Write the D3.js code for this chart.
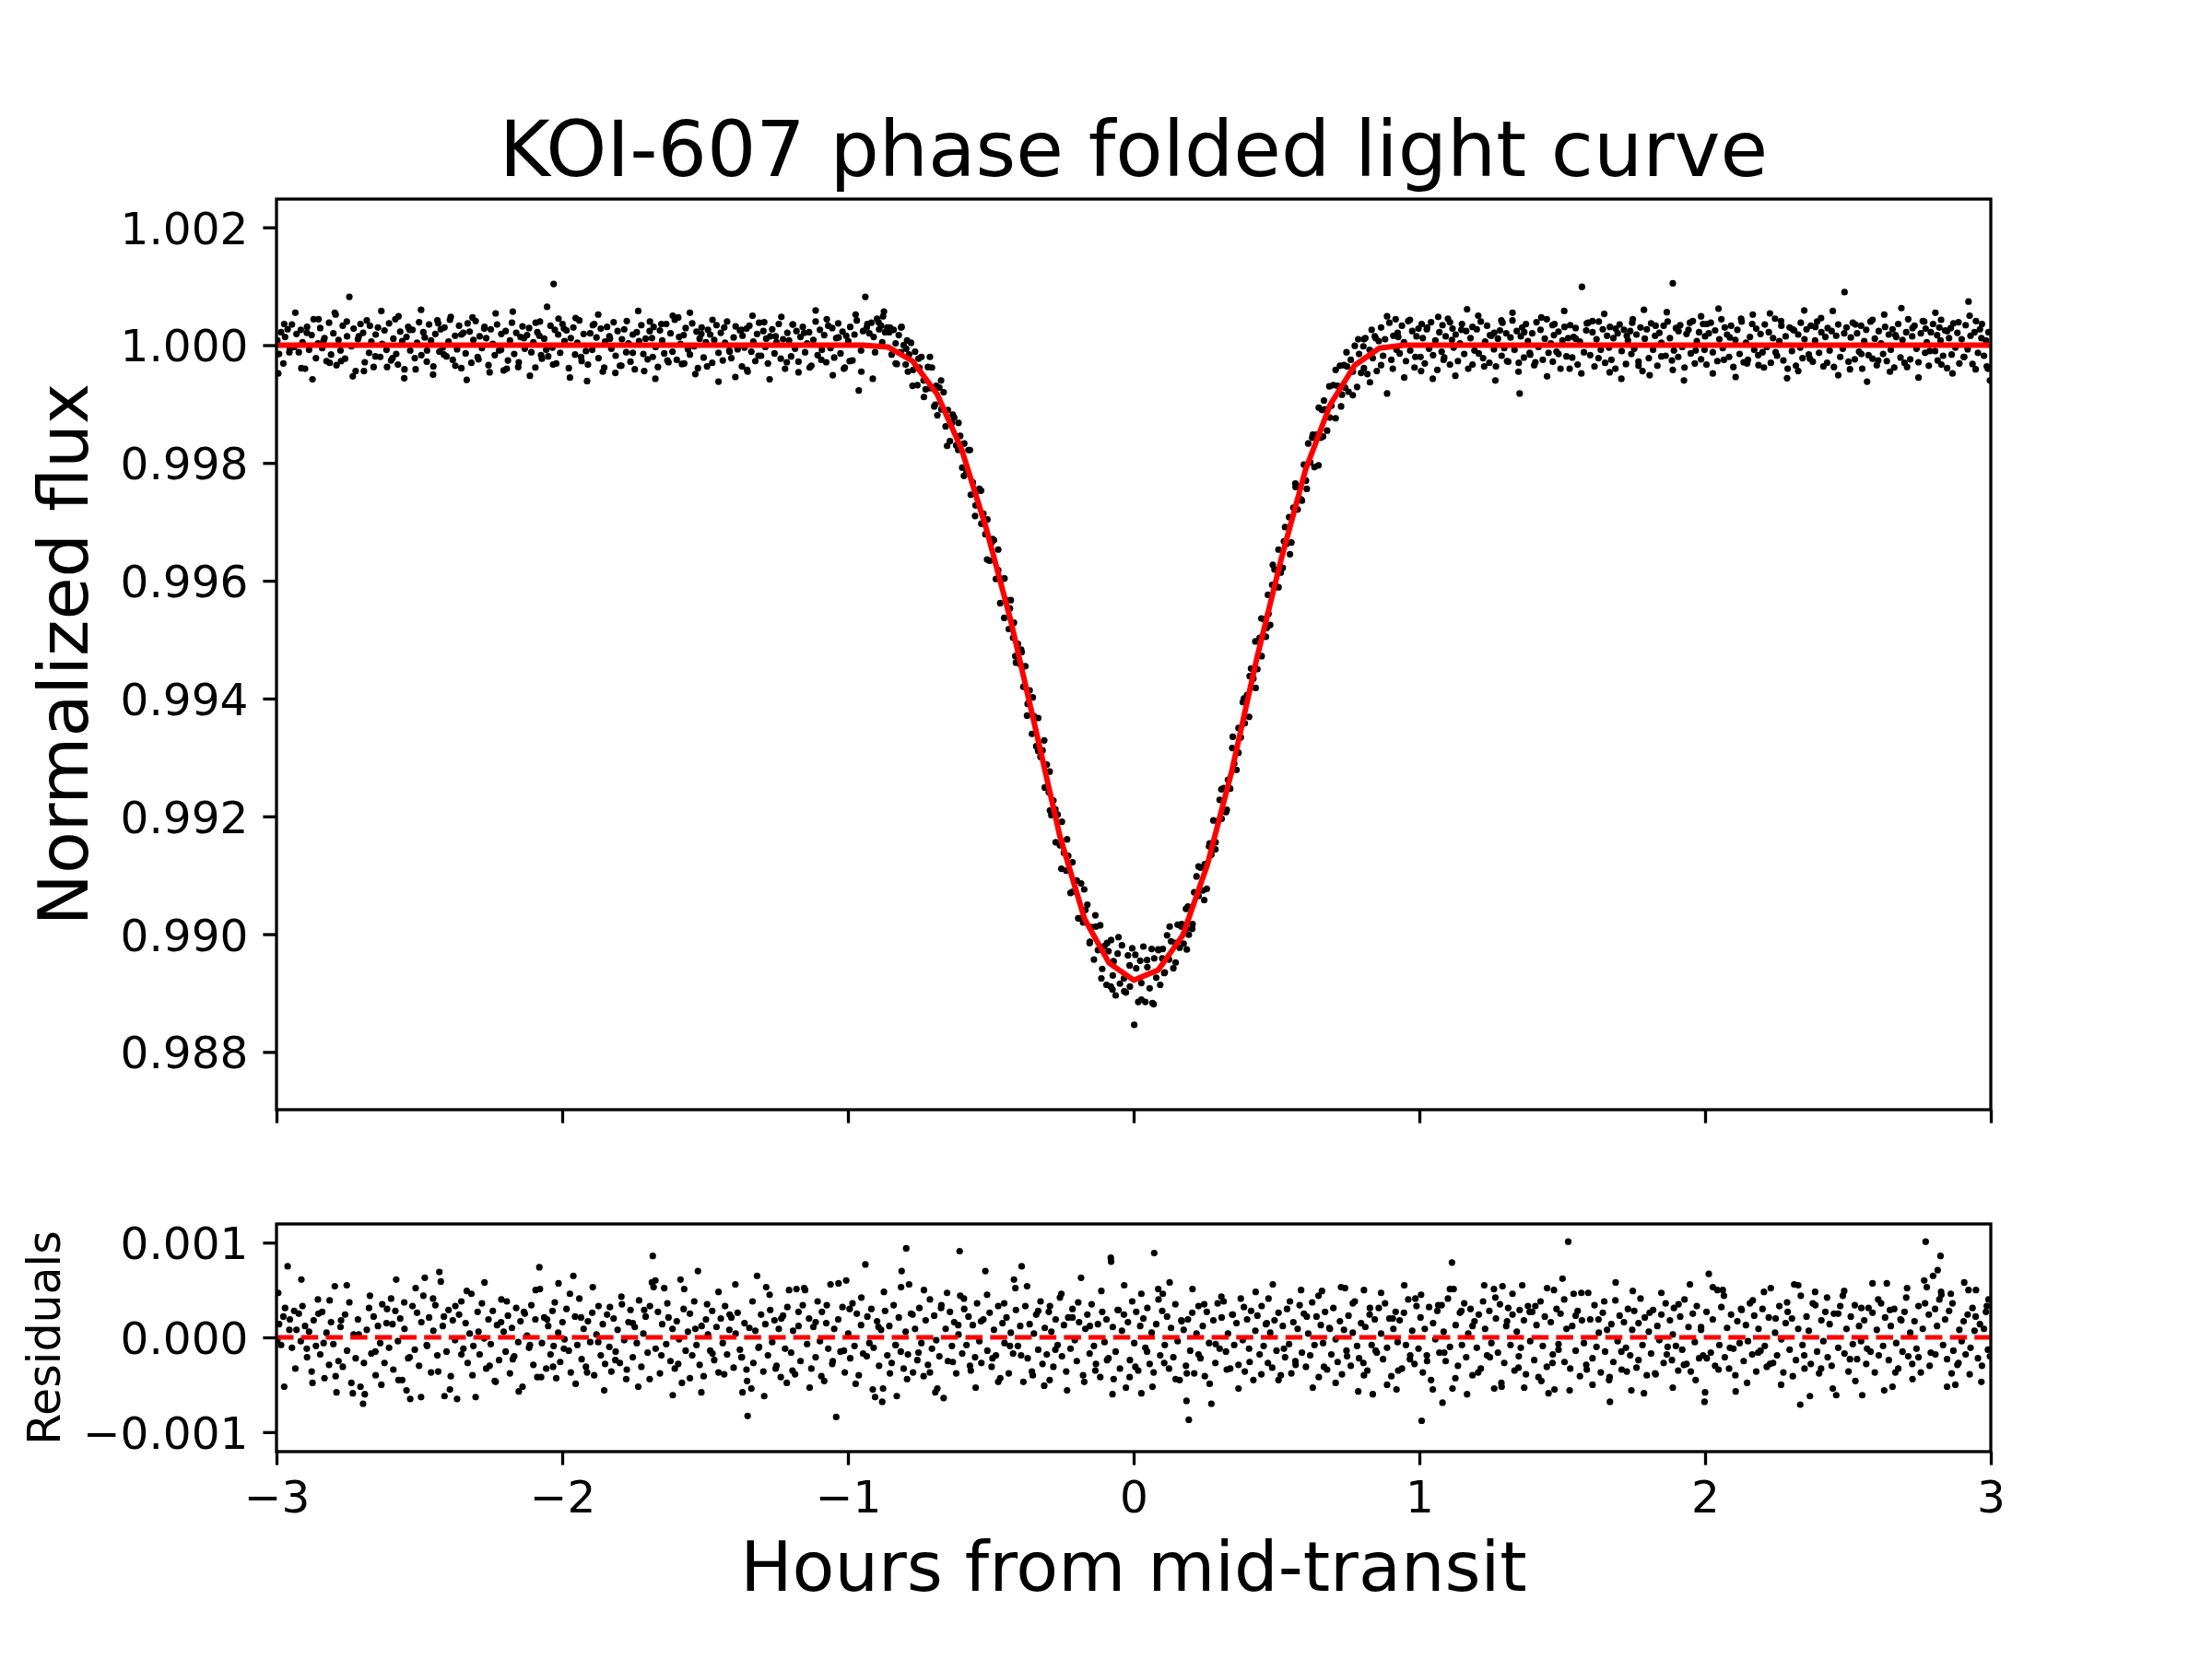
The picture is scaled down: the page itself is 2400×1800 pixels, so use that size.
<!DOCTYPE html>
<html><head><meta charset="utf-8">
<script src="https://cdn.jsdelivr.net/npm/d3@7"></script>
<style>body{margin:0;background:#fff}</style>
</head><body>
<svg id="chart" width="2400" height="1800"></svg>
<script>
const titleText = "KOI-607 phase folded light curve";
const xLabelText = "Hours from mid-transit";
const yLabelTopText = "Normalized flux";
const yLabelBottomText = "Residuals";
const xTicks = [-3,-2,-1,0,1,2,3];
const fluxTicks = [0.988,0.990,0.992,0.994,0.996,0.998,1.000,1.002];
const residualTicks = [-0.001,0,0.001];

const modelTimes = [-3,-0.946,-0.860,-0.774,-0.688,-0.602,-0.516,-0.430,-0.344,-0.258,-0.172,-0.086,0,0.086,0.172,0.258,0.344,0.430,0.516,0.602,0.688,0.774,0.860,0.946,3];
const modelFlux = [1,1,0.99997,0.99973,0.99917,0.99823,0.99689,0.99532,0.99350,0.99166,0.99026,0.98951,0.98922,0.98939,0.98998,0.99118,0.99278,0.99466,0.99636,0.99789,0.99899,0.99966,0.99995,1,1];

const times = [
-2.997,-2.991,-2.984,-2.976,-2.970,-2.961,-2.953,-2.946,-2.938,-2.930,
-2.922,-2.915,-2.909,-2.900,-2.893,-2.886,-2.877,-2.870,-2.862,-2.855,
-2.847,-2.840,-2.832,-2.825,-2.816,-2.809,-2.801,-2.796,-2.790,-2.783,
-2.776,-2.768,-2.760,-2.753,-2.745,-2.738,-2.730,-2.723,-2.715,-2.706,
-2.697,-2.691,-2.684,-2.676,-2.668,-2.660,-2.653,-2.645,-2.637,-2.630,
-2.622,-2.615,-2.606,-2.599,-2.591,-2.584,-2.581,-2.575,-2.567,-2.560,
-2.552,-2.545,-2.539,-2.532,-2.524,-2.516,-2.508,-2.501,-2.493,-2.486,
-2.481,-2.474,-2.466,-2.459,-2.451,-2.444,-2.437,-2.430,-2.425,-2.418,
-2.412,-2.405,-2.398,-2.390,-2.383,-2.375,-2.368,-2.361,-2.353,-2.346,
-2.338,-2.331,-2.324,-2.318,-2.311,-2.303,-2.296,-2.289,-2.281,-2.273,
-2.266,-2.258,-2.250,-2.243,-2.236,-2.228,-2.221,-2.213,-2.205,-2.198,
-2.190,-2.183,-2.176,-2.168,-2.161,-2.154,-2.146,-2.139,-2.131,-2.123,
-2.116,-2.108,-2.101,-2.094,-2.087,-2.080,-2.078,-2.071,-2.063,-2.056,
-2.049,-2.041,-2.034,-2.030,-2.026,-2.021,-2.014,-2.007,-1.999,-1.992,
-1.985,-1.977,-1.970,-1.961,-1.955,-1.947,-1.940,-1.932,-1.925,-1.917,
-1.910,-1.902,-1.895,-1.888,-1.880,-1.873,-1.865,-1.858,-1.850,-1.843,
-1.835,-1.828,-1.820,-1.813,-1.806,-1.798,-1.791,-1.783,-1.776,-1.768,
-1.761,-1.753,-1.746,-1.739,-1.731,-1.723,-1.716,-1.708,-1.701,-1.693,
-1.686,-1.683,-1.680,-1.673,-1.665,-1.658,-1.650,-1.643,-1.636,-1.628,
-1.621,-1.614,-1.606,-1.599,-1.591,-1.586,-1.581,-1.575,-1.568,-1.560,
-1.553,-1.545,-1.538,-1.530,-1.525,-1.519,-1.512,-1.505,-1.497,-1.490,
-1.482,-1.475,-1.468,-1.460,-1.453,-1.445,-1.438,-1.430,-1.423,-1.415,
-1.408,-1.400,-1.393,-1.386,-1.378,-1.371,-1.369,-1.362,-1.355,-1.351,
-1.345,-1.338,-1.331,-1.324,-1.318,-1.311,-1.304,-1.296,-1.289,-1.286,
-1.280,-1.272,-1.265,-1.257,-1.250,-1.242,-1.235,-1.227,-1.220,-1.212,
-1.206,-1.199,-1.192,-1.185,-1.180,-1.173,-1.166,-1.158,-1.150,-1.143,
-1.136,-1.128,-1.121,-1.113,-1.106,-1.098,-1.091,-1.083,-1.076,-1.069,
-1.061,-1.055,-1.048,-1.041,-1.034,-1.026,-1.019,-1.011,-1.006,-0.999,
-0.992,-0.984,-0.977,-0.969,-0.962,-0.954,-0.947,-0.939,-0.932,-0.925,
-0.918,-0.910,-0.905,-0.898,-0.891,-0.884,-0.880,-0.877,-0.870,-0.862,
-0.855,-0.847,-0.840,-0.833,-0.829,-0.822,-0.815,-0.812,-0.805,-0.798,
-0.796,-0.790,-0.786,-0.779,-0.772,-0.765,-0.757,-0.750,-0.743,-0.735,
-0.728,-0.720,-0.713,-0.706,-0.698,-0.691,-0.687,-0.680,-0.673,-0.665,
-0.658,-0.650,-0.643,-0.636,-0.628,-0.621,-0.613,-0.609,-0.607,-0.600,
-0.593,-0.585,-0.578,-0.570,-0.563,-0.555,-0.548,-0.540,-0.533,-0.526,
-0.519,-0.512,-0.504,-0.497,-0.489,-0.482,-0.474,-0.467,-0.459,-0.452,
-0.445,-0.437,-0.430,-0.422,-0.419,-0.412,-0.405,-0.397,-0.392,-0.386,
-0.379,-0.371,-0.364,-0.356,-0.349,-0.341,-0.334,-0.326,-0.319,-0.311,
-0.304,-0.297,-0.294,-0.288,-0.281,-0.273,-0.266,-0.258,-0.251,-0.244,
-0.236,-0.229,-0.221,-0.214,-0.206,-0.199,-0.191,-0.184,-0.177,-0.169,
-0.162,-0.154,-0.147,-0.139,-0.132,-0.125,-0.117,-0.110,-0.102,-0.095,
-0.088,-0.080,-0.079,-0.073,-0.070,-0.063,-0.056,-0.048,-0.041,-0.034,
-0.027,-0.020,-0.013,-0.005,0.002,0.009,0.016,0.023,0.027,0.034,
0.041,0.048,0.056,0.063,0.070,0.072,0.079,0.086,0.093,0.100,
0.102,0.109,0.117,0.124,0.131,0.139,0.146,0.154,0.161,0.168,
0.175,0.183,0.185,0.190,0.193,0.198,0.205,0.212,0.220,0.227,
0.234,0.242,0.249,0.256,0.264,0.272,0.279,0.286,0.294,0.301,
0.308,0.315,0.323,0.330,0.338,0.345,0.352,0.360,0.367,0.375,
0.382,0.389,0.397,0.404,0.411,0.419,0.426,0.433,0.441,0.448,
0.455,0.463,0.470,0.472,0.478,0.485,0.493,0.500,0.507,0.515,
0.522,0.530,0.537,0.544,0.552,0.559,0.566,0.574,0.581,0.589,
0.596,0.603,0.611,0.618,0.625,0.633,0.640,0.648,0.655,0.659,
0.663,0.670,0.677,0.685,0.692,0.699,0.707,0.714,0.722,0.729,
0.736,0.740,0.745,0.752,0.760,0.767,0.774,0.782,0.789,0.796,
0.804,0.806,0.811,0.818,0.826,0.833,0.837,0.844,0.851,0.858,
0.866,0.873,0.880,0.887,0.895,0.902,0.909,0.917,0.920,0.924,
0.931,0.939,0.946,0.953,0.961,0.968,0.975,0.983,0.990,0.997,
1.004,1.008,1.012,1.019,1.026,1.034,1.041,1.048,1.056,1.063,
1.070,1.078,1.081,1.085,1.092,1.100,1.107,1.114,1.116,1.120,
1.127,1.135,1.142,1.149,1.157,1.164,1.171,1.179,1.186,1.193,
1.201,1.208,1.215,1.223,1.230,1.237,1.245,1.252,1.261,1.262,
1.268,1.275,1.282,1.288,1.291,1.297,1.304,1.311,1.319,1.326,
1.333,1.341,1.348,1.351,1.355,1.360,1.366,1.373,1.380,1.388,
1.395,1.402,1.410,1.417,1.424,1.432,1.439,1.446,1.452,1.460,
1.467,1.471,1.473,1.480,1.487,1.494,1.501,1.508,1.515,1.521,
1.528,1.535,1.540,1.547,1.554,1.562,1.569,1.576,1.584,1.591,
1.598,1.606,1.613,1.620,1.628,1.635,1.642,1.650,1.657,1.664,
1.667,1.672,1.679,1.686,1.694,1.701,1.708,1.716,1.723,1.730,
1.738,1.742,1.745,1.752,1.760,1.767,1.774,1.781,1.789,1.796,
1.803,1.811,1.818,1.825,1.833,1.840,1.847,1.855,1.862,1.869,
1.877,1.884,1.887,1.891,1.898,1.906,1.913,1.920,1.928,1.935,
1.942,1.950,1.957,1.964,1.971,1.979,1.986,1.993,1.998,2.000,
2.005,2.013,2.020,2.027,2.035,2.043,2.050,2.057,2.062,2.069,
2.077,2.084,2.091,2.099,2.106,2.113,2.121,2.128,2.135,2.143,
2.150,2.157,2.165,2.172,2.179,2.187,2.194,2.201,2.209,2.216,
2.223,2.230,2.238,2.245,2.252,2.260,2.267,2.274,2.282,2.289,
2.296,2.304,2.312,2.318,2.326,2.333,2.335,2.341,2.348,2.355,
2.363,2.370,2.377,2.385,2.392,2.399,2.407,2.414,2.421,2.429,
2.436,2.443,2.451,2.459,2.466,2.473,2.482,2.488,2.495,2.502,
2.510,2.517,2.524,2.532,2.539,2.546,2.550,2.557,2.564,2.572,
2.579,2.586,2.594,2.601,2.608,2.616,2.623,2.630,2.636,2.643,
2.650,2.656,2.662,2.669,2.676,2.684,2.691,2.698,2.704,2.711,
2.718,2.725,2.733,2.740,2.747,2.755,2.762,2.770,2.772,2.776,
2.783,2.790,2.798,2.805,2.812,2.814,2.820,2.824,2.826,2.833,
2.840,2.847,2.854,2.860,2.863,2.869,2.876,2.883,2.890,2.898,
2.905,2.912,2.919,2.922,2.929,2.936,2.943,2.948,2.955,2.962,
2.969,2.976,2.983,2.990,2.992,2.997,
-2.994,-2.973,-2.955,-2.934,-2.913,-2.894,-2.874,-2.853,-2.835,-2.814,
-2.793,-2.774,-2.754,-2.733,-2.712,-2.694,-2.673,-2.654,-2.633,-2.613,
-2.594,-2.573,-2.553,-2.534,-2.513,-2.494,-2.473,-2.452,-2.434,-2.414,
-2.393,-2.374,-2.353,-2.334,-2.314,-2.293,-2.272,-2.254,-2.233,-2.214,
-2.194,-2.173,-2.152,-2.134,-2.113,-2.093,-2.074,-2.053,-2.032,-2.013,
-1.994,-1.973,-1.953,-1.934,-1.913,-1.893,-1.874,-1.853,-1.833,-1.814,
-1.793,-1.774,-1.753,-1.734,-1.713,-1.694,-1.674,-1.653,-1.632,-1.613,
-1.594,-1.573,-1.553,-1.534,-1.513,-1.493,-1.474,-1.453,-1.433,-1.414,
-1.394,-1.373,-1.353,-1.334,-1.313,-1.293,-1.274,-1.253,-1.233,-1.214,
-1.194,-1.173,-1.153,-1.134,-1.113,-1.093,-1.074,-1.053,-1.033,-1.014,
-0.994,-0.973,-0.953,-0.934,-0.913,-0.893,-0.874,-0.853,-0.833,-0.814,
-0.793,-0.774,-0.753,-0.734,-0.713,-0.694,-0.674,-0.653,-0.633,-0.614,
-0.594,-0.573,-0.553,-0.534,-0.513,-0.494,-0.474,-0.453,-0.433,-0.414,
-0.394,-0.373,-0.353,-0.334,-0.313,-0.293,-0.274,-0.253,-0.233,-0.214,
-0.194,-0.173,-0.153,-0.134,-0.113,-0.093,-0.074,-0.053,-0.033,-0.014,
0.006,0.027,0.047,0.066,0.087,0.107,0.126,0.147,0.167,0.186,
0.206,0.227,0.247,0.266,0.287,0.307,0.326,0.347,0.367,0.386,
0.406,0.427,0.447,0.466,0.487,0.507,0.526,0.547,0.567,0.586,
0.606,0.627,0.647,0.666,0.687,0.707,0.726,0.747,0.767,0.786,
0.806,0.827,0.847,0.866,0.887,0.907,0.926,0.947,0.967,0.986,
1.006,1.027,1.047,1.066,1.087,1.107,1.126,1.147,1.167,1.186,
1.206,1.227,1.247,1.266,1.287,1.307,1.326,1.347,1.367,1.386,
1.406,1.427,1.447,1.466,1.487,1.507,1.526,1.547,1.567,1.586,
1.606,1.627,1.647,1.666,1.687,1.707,1.726,1.747,1.767,1.786,
1.806,1.827,1.847,1.866,1.887,1.907,1.926,1.947,1.967,1.986,
2.006,2.027,2.047,2.066,2.087,2.107,2.126,2.147,2.167,2.186,
2.206,2.227,2.247,2.266,2.287,2.307,2.326,2.347,2.367,2.386,
2.406,2.427,2.447,2.466,2.487,2.507,2.526,2.547,2.567,2.586,
2.606,2.627,2.647,2.666,2.687,2.707,2.726,2.747,2.767,2.786,
2.806,2.827,2.847,2.866,2.887,2.907,2.926,2.947,2.967,2.986];

const flux = [
1.00008,.99985,1.00022,.99969,1.00014,1.00027,.99994,1.00035,.99997,1.00019,
.99988,1.00026,1.00005,.99960,1.00031,.99992,1.00017,1.00044,.99978,1.00003,
1.00029,.99995,1.00012,.99973,1.00038,.99984,1.00020,1.00055,.99966,1.00009,
.99991,1.00033,.99977,1.00015,1.00082,.99998,1.00028,.99956,1.00010,1.00036,
1.00021,.99971,1.00042,.99987,1.00006,.99963,1.00018,1.00030,.99980,1.00002,
1.00025,.99992,1.00037,.99974,1.00011,1.00044,.99985,.99967,1.00023,1.00007,
.99959,1.00014,1.00031,.99991,1.00026,.99978,1.00004,1.00039,.99983,1.00022,
1.00013,.99972,1.00035,1.00008,.99964,1.00019,1.00042,.99989,1.00027,.99996,
1.00030,.99981,1.00006,1.00048,.99975,1.00016,.99993,1.00033,.99961,1.00021,
.99986,1.00037,1.00023,.99970,1.00009,1.00041,.99980,1.00015,.99995,1.00028,
1.00012,.99966,1.00027,1.00002,.99983,1.00035,.99991,1.00019,.99957,1.00024,
.99974,1.00008,1.00038,.99985,1.00021,.99963,1.00014,1.00032,.99994,1.00017,
1.00029,.99988,1.00005,.99962,1.00022,1.00016,1.00040,.99977,1.00011,.99992,
.99981,1.00033,.99996,1.00104,1.00026,.99969,1.00018,.99987,1.00036,1.00007,
1.00025,.99961,1.00012,1.00030,.99984,1.00004,1.00042,.99973,1.00019,.99990,
.99967,1.00020,.99992,1.00036,1.00013,.99978,1.00028,.99955,1.00006,1.00031,
1.00015,.99994,1.00039,.99982,1.00024,.99965,1.00010,1.00027,.99988,1.00003,
.99972,1.00018,.99959,1.00022,1.00007,1.00034,.99985,1.00011,.99976,1.00040,
1.00012,.99980,1.00031,.99997,.99963,1.00025,1.00008,.99986,1.00036,.99971,
1.00020,.99989,1.00043,.99975,1.00014,1.00002,.99968,1.00017,1.00029,.99993,
.99984,1.00037,.99998,1.00023,.99961,1.00011,1.00030,.99979,1.00005,1.00026,
1.00018,.99970,1.00009,1.00034,.99987,1.00021,.99974,1.00004,1.00040,.99991,
.99978,1.00013,1.00032,.99993,1.00025,.99964,1.00016,.99996,1.00028,.99955,
1.00033,.99989,1.00006,.99973,1.00019,1.00038,.99982,1.00024,.99997,1.00011,
.99969,1.00015,1.00027,.99986,1.00005,1.00036,.99977,1.00010,.99960,1.00021,
1.00008,.99981,1.00035,.99994,1.00024,.99972,1.00014,1.00031,.99988,1.00003,
1.00022,.99965,1.00009,1.00040,.99983,1.00026,.99992,1.00017,.99971,1.00033,
.99995,1.00029,.99979,1.00012,1.00037,.99986,1.00023,.99962,1.00016,1.00007,
1.00031,.99974,1.00018,1.00042,.99923,.99991,1.00024,1.00082,1.00036,1.00020,
1.00038,1.00014,.99988,1.00045,1.00027,1.00033,1.00005,1.00049,1.00022,1.00030,
1.00022,.99984,1.00026,1.00003,.99968,1.00017,.99988,1.00031,1.00000,.99967,
.99994,.99955,.99984,1.00004,.99958,.99989,.99932,.99962,.99980,.99940,
.99925,.99963,.99927,.99962,.99896,.99931,.99881,.99928,.99891,.99920,
.99862,.99890,.99837,.99868,.99877,.99830,.99868,.99826,.99846,.99792,
.99833,.99784,.99822,.99746,.99767,.99710,.99753,.99756,.99697,.99714,
.99679,.99704,.99634,.99665,.99669,.99603,.99618,.99562,.99603,.99604,
.99567,.99518,.99567,.99503,.99529,.99461,.99493,.99458,.99479,.99420,
.99455,.99391,.99414,.99340,.99370,.99319,.99367,.99301,.99312,.99249,
.99288,.99241,.99276,.99202,.99227,.99156,.99203,.99151,.99191,.99138,
.99108,.99133,.99070,.99122,.99074,.99091,.99027,.99086,.99020,.99041,
.99050,.98985,.99012,.98957,.99013,.98973,.99015,.98941,.98980,.98914,
.98971,.98911,.98990,.98930,.98954,.98896,.98967,.98916,.98981,.98925,
.98901,.98964,.98911,.98976,.98846,.98942,.98885,.98955,.98917,.98979,
.98885,.98944,.98908,.98975,.98881,.98959,.98926,.98974,.98914,.98959,
.98975,.98935,.98998,.98957,.98988,.98942,.98985,.99016,.98977,.99017,
.98984,.99043,.99010,.99047,.98999,.99044,.99009,.99071,.99098,.99065,
.99113,.99074,.99119,.99077,.99149,.99135,.99193,.99144,.99192,.99228,
.99196,.99248,.99207,.99262,.99247,.99316,.99290,.99279,.99350,.99334,
.99394,.99358,.99406,.99369,.99451,.99434,.99497,.99450,.99503,.99472,
.99535,.99505,.99576,.99544,.99525,.99593,.99619,.99590,.99653,.99614,
.99622,.99691,.99663,.99708,.99665,.99724,.99765,.99721,.99760,.99736,
.99797,.99770,.99833,.99801,.99843,.99793,.99848,.99894,.99843,.99890,
.99845,.99891,.99855,.99930,.99897,.99932,.99876,.99931,.99965,.99916,
.99966,.99928,.99988,.99921,.99975,.99955,.99999,.99929,.99985,.99953,
.99998,.99961,1.00012,.99951,.99992,1.00026,.99978,1.00015,.99956,1.00007,
1.00030,.99982,1.00010,.99918,1.00038,.99975,1.00016,1.00044,.99992,1.00021,
.99986,1.00033,1.00005,.99973,1.00041,.99991,1.00024,.99962,1.00015,1.00028,
.99980,1.00036,1.00012,.99969,1.00027,.99994,1.00039,.99983,1.00008,.99958,
1.00022,.99989,1.00034,.99975,1.00015,1.00045,.99967,1.00009,1.00028,.99996,
1.00018,.99973,1.00003,1.00036,.99985,1.00024,.99960,1.00012,1.00031,.99991,
1.00027,.99986,1.00040,.99978,1.00006,1.00033,.99970,1.00016,.99993,1.00021,
.99964,1.00011,1.00025,.99982,1.00038,.99995,1.00020,.99972,1.00013,1.00042,
.99992,1.00024,.99970,.99918,1.00015,1.00030,.99979,1.00036,1.00007,.99984,
1.00020,.99966,1.00039,.99997,1.00026,.99975,1.00011,1.00044,.99987,1.00003,
.99972,1.00017,1.00036,.99989,1.00023,.99960,1.00008,1.00031,.99981,1.00012,
1.00034,.99979,1.00014,1.00029,.99967,1.00006,1.00099,.99988,1.00025,1.00038,
.99983,1.00022,.99964,1.00010,1.00040,.99992,1.00027,.99970,1.00016,.99996,
1.00031,.99975,1.00012,.99960,1.00020,1.00035,.99990,1.00026,.99968,1.00008,
1.00024,.99985,1.00038,.99994,1.00018,.99972,1.00030,.99956,1.00011,1.00027,
.99978,1.00037,.99992,1.00016,.99965,1.00021,1.00004,1.00033,.99982,1.00040,
1.00012,.99974,1.00105,.99991,1.00029,.99980,1.00034,.99997,.99962,1.00019,
1.00026,.99986,1.00041,.99969,1.00007,1.00022,.99976,1.00036,.99992,1.00015,
.99967,1.00020,1.00038,.99988,1.00025,.99973,1.00010,1.00044,.99995,1.00030,
1.00018,.99980,1.00033,.99963,1.00009,1.00026,.99985,1.00040,.99971,1.00004,
.99975,1.00014,1.00036,.99992,1.00028,.99966,1.00019,.99988,1.00035,.99997,
1.00022,.99970,1.00012,1.00045,.99982,1.00007,1.00033,.99974,1.00015,.99960,
1.00030,.99990,1.00025,.99965,1.00018,.99996,1.00038,.99978,1.00010,1.00027,
.99984,1.00033,.99972,1.00008,1.00040,.99987,1.00022,.99964,1.00014,1.00029,
.99991,1.00024,.99963,1.00016,1.00035,.99980,.99994,1.00090,1.00030,.99972,
1.00013,1.00038,.99976,1.00020,.99989,1.00033,.99960,1.00007,1.00026,.99983,
1.00040,.99977,1.00011,.99966,1.00024,1.00003,.99985,1.00031,.99973,1.00018,
.99992,1.00027,.99962,1.00014,1.00036,.99979,1.00009,.99970,1.00022,1.00044,
.99976,1.00015,1.00033,.99994,.99971,1.00020,1.00041,.99987,1.00028,1.00005,
.99965,1.00022,1.00036,.99990,1.00017,.99974,1.00030,1.00008,1.00043,.99982,
1.00025,.99961,1.00012,1.00029,.99984,1.00037,.99996,1.00021,.99969,1.00010,
.99980,1.00034,.99993,1.00074,1.00016,.99968,1.00022,1.00041,.99987,1.00027,
1.00036,.99982,1.00008,.99960,1.00022,.99940,
.99952,1.00036,.99988,1.00055,.99961,1.00021,.99942,1.00044,1.00008,.99970,
1.00052,.99973,1.00040,.99947,1.00015,.99956,1.00033,.99981,1.00058,.99963,
.99978,1.00049,.99944,1.00026,.99959,1.00060,.99991,.99950,1.00037,.99984,
1.00043,.99965,1.00018,.99941,1.00047,.99976,1.00031,.99954,1.00054,.99992,
.99960,1.00057,.99971,1.00012,.99948,1.00038,.99983,1.00065,.99967,1.00045,
1.00028,.99945,1.00046,.99980,.99939,1.00034,1.00052,.99962,1.00011,.99953,
.99965,1.00041,.99987,1.00058,.99956,1.00024,.99943,1.00036,.99974,1.00050,
1.00047,.99969,1.00055,.99951,1.00019,.99964,1.00043,.99938,1.00030,.99989,
.99946,1.00026,.99958,1.00050,.99982,1.00039,.99942,1.00015,1.00048,.99971,
1.00035,.99954,1.00021,.99962,1.00059,.99975,1.00044,.99949,1.00013,.99960,
.99973,1.00052,.99955,1.00030,.99943,1.00039,1.00057,1.00030,.99969,1.00030,
1.00008,.99931,.99977,.99912,.99980,.99899,.99940,.99829,.99882,.99822,
.99778,.99822,.99728,.99753,.99636,.99671,.99653,.99537,.99553,.99472,
.99483,.99371,.99402,.99311,.99329,.99210,.99212,.99111,.99161,.99072,
.99027,.99076,.98987,.99032,.98925,.98985,.98906,.98995,.98903,.98947,
.98965,.98889,.98956,.98883,.98973,.98934,.99013,.98952,.99013,.98974,
.99017,.99115,.99058,.99154,.99156,.99246,.99211,.99335,.99308,.99400,
.99438,.99418,.99536,.99520,.99627,.99589,.99667,.99645,.99759,.99738,
.99756,.99848,.99796,.99906,.99877,.99958,.99896,.99964,.99915,1.00010,
1.00010,.99937,1.00012,.99966,1.00049,.99960,1.00014,.99945,1.00043,.99980,
.99956,1.00030,.99943,1.00048,.99979,1.00039,.99948,1.00026,1.00061,.99967,
1.00050,.99964,1.00017,.99940,1.00042,.99973,1.00055,.99955,1.00022,.99987,
.99971,1.00047,.99947,1.00034,.99985,1.00058,.99960,1.00011,.99952,1.00037,
1.00041,.99978,1.00053,.99954,1.00028,.99943,1.00016,1.00044,.99965,1.00060,
.99949,1.00033,.99981,1.00056,.99958,1.00024,.99940,1.00038,.99991,1.00049,
1.00036,.99952,1.00062,.99975,1.00013,.99946,1.00045,.99969,1.00052,.99983,
.99962,1.00054,.99988,1.00041,.99944,1.00027,.99956,1.00059,.99977,1.00031,
1.00046,.99970,1.00058,.99949,1.00020,.99959,1.00035,.99985,.99938,1.00043,
.99974,1.00052,.99955,1.00017,1.00063,.99963,1.00029,.99945,1.00040,.99990,
1.00055,.99967,1.00024,.99952,1.00039,.99980,1.00050,.99959,1.00012,.99964];

const residuals = [
-.00003,.00014,-.00008,.00022,.00031,.00075,.00019,-.00011,.00028,.00008,
.00025,-.00004,.00033,.00012,-.00021,.00006,-.00036,.00018,-.00009,.00040,
-.00018,.00027,-.00043,.00005,-.00029,.00016,-.00007,.00054,-.00058,-.00025,
.00011,-.00031,.00024,-.00014,.00037,-.00048,.00003,-.00022,.00019,-.00052,
-.00070,-.00060,.00008,.00031,-.00017,.00022,-.00040,.00012,-.00006,.00035,
-.00027,.00015,-.00011,.00041,-.00034,.00028,.00061,-.00004,.00020,-.00045,
.00009,-.00056,-.00022,-.00065,.00033,-.00013,.00026,-.00030,.00016,.00044,
.00063,-.00008,.00021,-.00037,.00007,.00034,-.00019,.00069,.00059,.00012,
-.00062,-.00015,.00029,-.00041,.00018,-.00003,-.00065,.00024,.00038,-.00012,
.00015,-.00027,.00004,.00046,-.00009,-.00063,.00027,-.00018,.00036,-.00001,
-.00033,.00019,-.00007,.00028,-.00046,.00013,-.00024,.00040,.00006,-.00015,
.00023,-.00038,.00010,-.00020,.00031,-.00005,.00017,-.00052,.00025,.00002,
-.00011,.00034,-.00029,.00019,-.00042,.00074,.00051,-.00006,.00021,-.00033,
.00012,-.00018,.00028,-.00009,.00037,-.00043,.00005,-.00026,.00016,-.00002,
.00030,-.00014,-.00037,.00065,.00022,-.00008,.00041,-.00023,.00009,-.00031,
.00017,-.00005,.00026,-.00040,.00003,.00033,-.00019,.00014,-.00028,.00024,
-.00010,-.00036,.00020,-.00015,.00008,-.00027,.00035,-.00003,-.00044,.00016,
.00029,-.00021,.00011,-.00006,.00039,-.00031,.00004,.00022,-.00016,.00033,
.00058,.00086,.00053,-.00012,.00027,-.00038,.00014,.00052,-.00007,.00021,
-.00025,.00009,-.00033,.00017,-.00002,.00061,-.00048,.00030,-.00014,.00006,
.00025,-.00019,.00038,-.00008,.00070,-.00029,.00012,-.00041,.00019,.00003,
-.00014,.00028,-.00024,.00011,-.00037,.00020,-.00006,.00033,-.00018,.00008,
.00021,-.00032,.00004,.00026,-.00013,-.00021,-.00058,.00015,-.00034,-.00083,
.00010,-.00054,-.00027,.00007,.00065,-.00010,.00024,-.00036,.00014,.00053,
-.00019,.00029,-.00005,.00018,-.00030,.00009,-.00042,.00023,-.00012,.00032,
.00050,-.00016,.00007,-.00039,.00051,.00012,-.00025,.00034,.00050,-.00007,
.00020,-.00033,.00011,-.00021,.00038,-.00004,.00027,-.00046,.00015,-.00012,
.00056,-.00028,.00009,-.00084,.00019,-.00015,.00032,-.00037,.00060,.00004,
-.00022,.00036,-.00009,.00025,-.00040,.00013,-.00017,.00077,.00022,-.00006,
.00030,-.00011,-.00063,.00017,-.00030,.00008,-.00068,-.00054,.00028,-.00019,
.00012,-.00027,.00034,-.00008,-.00062,.00021,-.00015,.00070,-.00033,.00006,
.00094,-.00018,.00056,.00025,-.00037,.00009,-.00024,.00031,-.00006,-.00041,
.00018,-.00029,.00040,-.00012,.00023,-.00003,-.00054,-.00020,.00034,-.00064,
.00009,-.00025,.00027,-.00009,.00016,-.00038,.00003,.00091,.00044,-.00017,
.00030,-.00008,.00022,-.00035,.00013,-.00021,.00036,-.00004,-.00027,.00019,
.00070,-.00014,.00026,-.00031,.00008,-.00019,.00033,-.00043,.00015,-.00006,
.00021,-.00038,.00005,-.00017,.00061,.00029,-.00009,.00012,.00075,-.00047,
.00033,-.00022,.00014,-.00036,.00004,.00024,-.00013,.00038,-.00028,.00010,
-.00018,.00027,-.00045,.00006,-.00031,.00019,-.00008,.00042,-.00020,.00013,
-.00036,.00021,-.00012,.00030,-.00003,-.00025,.00016,.00063,-.00040,.00009,
.00024,-.00017,.00035,-.00009,-.00028,.00014,-.00042,.00027,-.00005,.00019,
-.00022,.00084,.00080,.00011,-.00044,-.00015,.00029,-.00033,.00007,.00024,
-.00053,.00016,-.00024,.00038,-.00006,.00027,-.00035,.00012,-.00059,.00020,
-.00011,.00031,-.00028,.00005,-.00037,.00089,.00014,.00051,-.00019,.00028,
.00046,-.00008,.00022,-.00033,.00010,-.00021,.00035,-.00004,-.00045,.00017,
.00008,-.00030,-.00067,.00019,-.00087,-.00014,.00026,-.00038,.00004,.00033,
-.00022,.00012,-.00041,.00027,-.00006,-.00070,.00018,-.00027,.00036,-.00012,
.00021,.00038,-.00015,.00004,-.00033,.00024,-.00008,.00015,-.00029,.00041,
-.00003,-.00036,.00019,-.00012,.00028,-.00045,.00007,.00023,-.00018,.00033,
-.00009,.00014,-.00027,.00041,.00005,-.00032,.00018,-.00014,.00026,-.00040,
.00012,-.00021,.00030,-.00007,-.00038,.00016,-.00025,.00009,.00034,-.00016,
.00025,-.00031,.00004,-.00019,.00037,-.00008,.00022,-.00042,.00013,.00049,
-.00006,.00027,-.00034,.00010,-.00018,.00031,-.00002,-.00026,.00017,-.00039,
.00008,.00052,-.00014,.00023,-.00030,.00005,.00038,-.00009,-.00022,.00015,
-.00027,.00050,.00011,-.00035,.00024,-.00008,-.00060,.00019,-.00016,.00031,
.00004,-.00023,.00036,-.00011,.00020,-.00041,.00009,.00027,-.00055,-.00005,
.00018,-.00033,.00026,-.00008,.00040,-.00019,.00007,-.00028,.00033,-.00012,
.00021,-.00088,-.00037,.00009,-.00019,.00032,-.00045,.00015,-.00002,.00028,
-.00016,.00034,-.00069,.00006,-.00025,.00041,-.00010,.00079,-.00054,.00051,
.00013,-.00030,.00026,-.00008,.00036,-.00021,.00004,.00030,-.00040,.00017,
-.00011,.00024,-.00033,.00038,.00009,-.00019,.00028,-.00006,.00051,-.00054,
.00020,-.00016,.00035,-.00052,.00054,-.00027,.00012,.00031,-.00008,.00024,
-.00035,.00006,-.00020,.00029,-.00011,.00055,.00018,-.00039,.00033,-.00004,
.00027,-.00024,.00013,-.00042,.00038,-.00009,.00022,-.00031,-.00059,.00016,
-.00018,.00050,-.00055,.00030,-.00007,.00025,.00062,-.00026,.00009,.00101,
-.00033,.00012,.00046,-.00014,.00028,-.00041,.00018,-.00006,-.00029,.00047,
.00019,-.00022,.00034,-.00010,.00005,-.00037,.00026,-.00015,.00008,-.00045,
-.00068,.00014,-.00026,.00039,-.00004,.00023,-.00034,.00016,-.00011,.00030,
-.00019,-.00056,.00008,.00028,-.00032,.00015,.00041,-.00008,.00021,-.00040,
.00006,-.00017,.00029,-.00038,.00012,-.00003,.00024,-.00027,.00036,-.00010,
.00018,-.00024,.00003,.00031,-.00009,-.00035,.00022,-.00013,.00040,-.00028,
.00011,-.00036,.00025,-.00005,.00033,-.00022,.00008,-.00019,-.00068,-.00058,
.00027,.00067,-.00016,.00019,-.00030,.00050,-.00008,.00032,.00050,-.00021,
.00010,-.00033,.00024,-.00012,-.00040,.00017,-.00006,.00029,-.00025,.00013,
-.00004,.00036,-.00018,.00023,-.00036,.00009,-.00014,.00030,-.00009,-.00031,
.00021,.00052,-.00027,.00005,-.00019,.00033,-.00002,-.00037,.00015,.00027,
-.00013,.00020,.00056,-.00024,.00009,-.00071,.00044,-.00008,-.00033,.00022,
.00007,-.00028,.00036,.00048,-.00015,-.00038,.00018,-.00004,.00027,-.00021,
.00014,-.00030,.00025,-.00061,-.00011,.00033,.00044,-.00017,.00009,-.00036,
.00022,-.00007,.00034,-.00023,.00012,-.00004,-.00061,.00018,-.00028,.00031,
-.00015,.00026,-.00037,.00008,-.00019,.00036,-.00009,.00021,.00057,-.00024,
.00012,-.00052,.00030,-.00006,-.00033,.00019,-.00015,.00027,.00042,-.00020,
.00005,-.00028,.00017,-.00012,.00033,-.00037,.00009,.00036,.00101,.00053,
.00024,-.00016,.00065,.00030,.00012,.00071,.00040,.00086,.00048,-.00008,
.00019,-.00023,.00028,.00046,-.00038,-.00014,-.00050,-.00029,.00008,-.00004,
.00017,-.00018,.00024,.00050,-.00011,.00031,.00007,.00050,-.00022,.00014,
-.00030,.00009,.00027,-.00013,.00040,-.00020,
.00047,-.00052,.00008,-.00033,.00061,-.00012,-.00048,.00025,-.00006,.00039,
-.00041,.00018,.00055,-.00059,.00003,-.00027,.00044,-.00015,-.00050,.00030,
.00014,-.00045,.00037,-.00021,.00052,-.00063,-.00009,.00041,-.00036,.00022,
-.00055,.00033,-.00018,.00049,-.00040,.00006,.00058,-.00030,-.00047,.00016,
.00038,-.00023,-.00057,.00027,-.00008,.00050,-.00042,.00019,-.00031,.00057,
-.00012,.00046,-.00049,.00021,-.00037,.00053,-.00005,-.00056,.00032,-.00024,
.00043,-.00034,.00015,-.00052,.00029,-.00044,.00060,-.00019,.00036,-.00061,
-.00028,.00051,-.00043,.00009,-.00058,.00035,-.00017,.00048,-.00039,.00024,
.00056,-.00021,-.00046,.00038,-.00011,-.00062,.00045,-.00033,.00020,-.00048,
-.00035,.00027,.00052,-.00053,.00016,-.00041,.00034,-.00025,.00057,-.00014,
.00030,-.00049,.00042,-.00020,-.00055,.00011,.00048,-.00038,-.00008,.00053,
-.00044,.00024,-.00016,.00050,-.00037,-.00058,.00031,.00047,-.00026,.00013,
.00041,-.00030,-.00053,.00017,.00045,-.00022,-.00047,.00036,-.00009,.00052,
-.00019,.00054,-.00040,.00028,-.00051,.00033,-.00013,.00046,-.00056,.00021,
.00037,-.00047,.00012,-.00035,.00049,-.00024,-.00060,.00029,.00055,-.00042,
-.00031,.00046,-.00015,-.00052,.00040,-.00027,.00058,-.00044,.00018,-.00038,
.00051,-.00018,.00035,-.00049,-.00007,.00043,-.00034,.00024,-.00054,.00032,
-.00026,.00048,-.00039,.00015,.00056,-.00045,-.00012,.00038,-.00029,.00050,
.00022,-.00053,.00044,-.00031,.00009,-.00048,.00053,-.00020,.00036,-.00057,
-.00040,.00031,-.00014,.00047,-.00050,.00020,-.00035,.00055,-.00023,.00041,
.00045,-.00025,-.00055,.00034,-.00016,.00051,-.00043,.00028,-.00060,.00012,
-.00037,.00055,-.00021,.00042,-.00048,.00017,.00046,-.00032,-.00053,.00027,
.00033,-.00046,.00052,-.00027,-.00013,.00040,-.00056,.00023,.00047,-.00034,
-.00050,.00019,.00038,-.00042,.00058,-.00015,-.00036,.00049,-.00024,-.00059,
.00026,-.00039,.00047,-.00018,-.00053,.00035,-.00029,.00056,-.00045,.00011,
-.00022,.00053,-.00034,.00044,-.00011,-.00057,.00030,-.00048,.00039,-.00016,
.00048,-.00028,.00020,-.00050,.00037,-.00041,.00055,-.00019,-.00062,.00034,
-.00033,.00042,-.00054,.00025,.00049,-.00023,-.00046,.00031,-.00012,.00057,
.00040,-.00056,.00029,-.00037,.00018,.00052,-.00044,-.00021,.00060,-.00030,
-.00018,.00045,-.00052,.00036,-.00027,.00058,-.00039,.00022,-.00047,.00033];

const W = 2400, H = 1800;
const FONT = "DejaVu Sans";
const left = 300, right = 2160;
const topY0 = 216, topY1 = 1204, botY0 = 1328, botY1 = 1575;
const SW = 3.3, TICK = 14.6, TICKFONT = 48.5, DOT = 3.6;

const svg = d3.select("#chart");
svg.append("rect").attr("width", W).attr("height", H).attr("fill", "#fff");

const x = d3.scaleLinear().domain([-3, 3]).range([left, right]);
const yTop = d3.scaleLinear().domain([0.98702, 1.00248]).range([topY1, topY0]);
const yBot = d3.scaleLinear().domain([-0.001206, 0.001197]).range([botY1, botY0]);

const defs = svg.append("defs");
defs.append("clipPath").attr("id", "clipTop").append("rect")
  .attr("x", left).attr("y", topY0).attr("width", right - left).attr("height", topY1 - topY0);
defs.append("clipPath").attr("id", "clipBot").append("rect")
  .attr("x", left).attr("y", botY0).attr("width", right - left).attr("height", botY1 - botY0);

const topPts = d3.zip(times, flux);
const botPts = d3.zip(times, residuals);

// top panel
const gTop = svg.append("g").attr("clip-path", "url(#clipTop)");
gTop.selectAll("circle").data(topPts).join("circle")
  .attr("cx", d => x(d[0])).attr("cy", d => yTop(d[1])).attr("r", DOT).attr("fill", "#000");
gTop.append("path").datum(d3.zip(modelTimes, modelFlux))
  .attr("d", d3.line().x(d => x(d[0])).y(d => yTop(d[1])))
  .attr("fill", "none").attr("stroke", "#ff0000").attr("stroke-width", 6).attr("stroke-linejoin", "round");

// bottom panel
const gBot = svg.append("g").attr("clip-path", "url(#clipBot)");
gBot.selectAll("circle").data(botPts).join("circle")
  .attr("cx", d => x(d[0])).attr("cy", d => yBot(d[1])).attr("r", DOT).attr("fill", "#000");
gBot.append("path").datum([[-3, 0], [3, 0]])
  .attr("d", d3.line().x(d => x(d[0])).y(d => yBot(d[1])))
  .attr("fill", "none").attr("stroke", "#ff0000").attr("stroke-width", 5)
  .attr("stroke-dasharray", "18.5,8.2");

function styleAxis(g) {
  g.select(".domain").remove();
  g.attr("font-family", FONT).attr("font-size", TICKFONT);
  g.selectAll(".tick line").attr("stroke", "#000").attr("stroke-width", SW);
  g.selectAll(".tick text").attr("fill", "#000");
}

// axes
svg.append("g").attr("transform", `translate(0,${topY1})`)
  .call(d3.axisBottom(x).tickValues(xTicks).tickSize(TICK).tickFormat(""))
  .call(styleAxis);
svg.append("g").attr("transform", `translate(0,${botY1})`)
  .call(d3.axisBottom(x).tickValues(xTicks).tickSize(TICK).tickPadding(17).tickFormat(d3.format("d")))
  .call(styleAxis);
svg.append("g").attr("transform", `translate(${left},0)`)
  .call(d3.axisLeft(yTop).tickValues(fluxTicks).tickSize(TICK).tickPadding(16).tickFormat(d3.format(".3f")))
  .call(styleAxis)
  .call(g => g.selectAll(".tick text").attr("dy", "0.36em"));
svg.append("g").attr("transform", `translate(${left},0)`)
  .call(d3.axisLeft(yBot).tickValues(residualTicks).tickSize(TICK).tickPadding(16).tickFormat(d3.format(".3f")))
  .call(styleAxis)
  .call(g => g.selectAll(".tick text").attr("dy", "0.36em"));

// frames
svg.append("rect").attr("x", left).attr("y", topY0).attr("width", right - left).attr("height", topY1 - topY0)
  .attr("fill", "none").attr("stroke", "#000").attr("stroke-width", SW);
svg.append("rect").attr("x", left).attr("y", botY0).attr("width", right - left).attr("height", botY1 - botY0)
  .attr("fill", "none").attr("stroke", "#000").attr("stroke-width", SW);

// texts
svg.append("text").attr("x", (left + right) / 2).attr("y", 191)
  .attr("text-anchor", "middle").attr("font-family", FONT).attr("font-size", 84).attr("fill", "#000")
  .text(titleText);
svg.append("text").attr("x", (left + right) / 2).attr("y", 1726)
  .attr("text-anchor", "middle").attr("font-family", FONT).attr("font-size", 75).attr("fill", "#000")
  .text(xLabelText);
svg.append("text").attr("transform", `translate(95,${(topY0 + topY1) / 2}) rotate(-90)`)
  .attr("text-anchor", "middle").attr("font-family", FONT).attr("font-size", 75).attr("fill", "#000")
  .text(yLabelTopText);
svg.append("text").attr("transform", `translate(65,${(botY0 + botY1) / 2}) rotate(-90)`)
  .attr("text-anchor", "middle").attr("font-family", FONT).attr("font-size", 49).attr("fill", "#000")
  .text(yLabelBottomText);
</script>
</body></html>
